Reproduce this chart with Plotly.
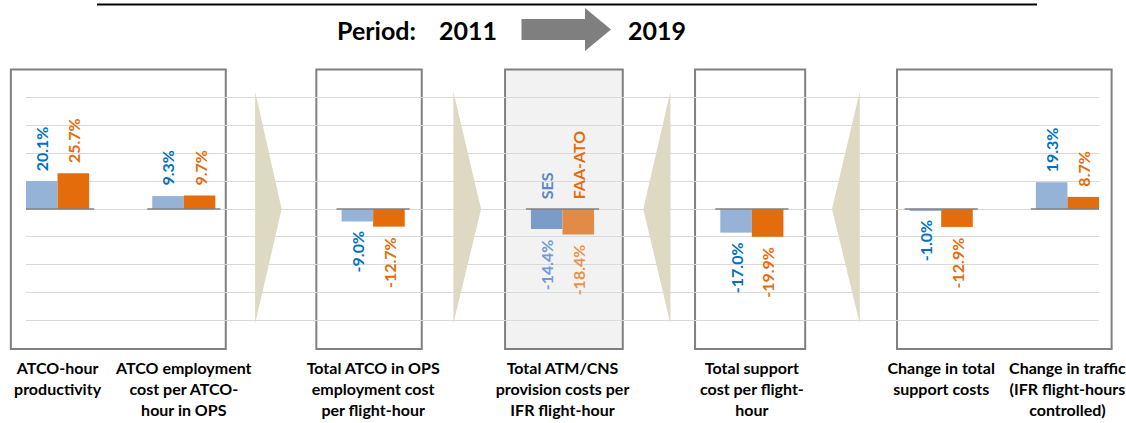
import plotly.graph_objects as go

# ---------------- data ----------------
categories = [
    "ATCO-hour<br>productivity",
    "ATCO employment<br>cost per ATCO-<br>hour in OPS",
    "Total ATCO in OPS<br>employment cost<br>per flight-hour",
    "Total ATM/CNS<br>provision costs per<br>IFR flight-hour",
    "Total support<br>cost per flight-<br>hour",
    "Change in total<br>support costs",
    "Change in traffic<br>(IFR flight-hours<br>controlled)",
]
ses_values = [20.1, 9.3, -9.0, -14.4, -17.0, -1.0, 19.3]
faa_values = [25.7, 9.7, -12.7, -18.4, -19.9, -12.9, 8.7]
series_names = ["SES", "FAA-ATO"]
period_label = "Period:"
period_start = "2011"
period_end = "2019"

# ---------------- layout helpers ----------------
W, H = 1126, 423
ML, MR, MT, MB = 26, 27, 70, 75
PW, PH = W - ML - MR, H - MT - MB

slots = [0, 2, 5, 8, 11, 14, 16]          # category slot positions on the x axis
x_range = [-0.5, 16.5]
y_range = [-100, 100]
hi = 3                                     # highlighted (central) category

def px_x(px):
    return (px - ML) / PW

def px_y(py):
    return (H - MB - py) / PH

def dx_paper(x):
    return (x - x_range[0]) / (x_range[1] - x_range[0])

FONT = "Lato, 'Open Sans', Arial, sans-serif"

ses_bar = ["#95B3D7"] * 7
faa_bar = ["#E46C0A"] * 7
ses_txt = ["#0070C0"] * 7
faa_txt = ["#E46C0A"] * 7
ses_bar[hi], faa_bar[hi] = "#7B9CC8", "#E28B47"
ses_txt[hi], faa_txt[hi] = "#6F9BD3", "#E8924E"

fig = go.Figure()
fig.add_trace(go.Bar(x=slots, y=ses_values, name=series_names[0], width=0.5, offset=-0.5,
                     marker=dict(color=ses_bar, line=dict(width=0)), showlegend=False))
fig.add_trace(go.Bar(x=slots, y=faa_values, name=series_names[1], width=0.5, offset=0.0,
                     marker=dict(color=faa_bar, line=dict(width=0)), showlegend=False))

annotations = []
for i, s in enumerate(slots):
    for v, off, col in ((ses_values[i], -0.25, ses_txt[i]), (faa_values[i], 0.25, faa_txt[i])):
        pos = v >= 0
        annotations.append(dict(
            x=s + off, y=v, xref="x", yref="y", text=f"<b>{v:.1f}%</b>",
            showarrow=False, textangle=-90,
            yanchor="bottom" if pos else "top", xanchor="center",
            yshift=8 if pos else -8,
            font=dict(family=FONT, size=16, color=col)))

# legend labels inside the central box
for name, off, col in ((series_names[0], -0.25, "#5B87C5"), (series_names[1], 0.25, "#E46C0A")):
    annotations.append(dict(x=slots[hi] + off, y=0, xref="x", yref="y", text=f"<b>{name}</b>",
                            showarrow=False, textangle=-90, yanchor="bottom", yshift=8,
                            font=dict(family=FONT, size=16, color=col)))

# header
hdr_font = dict(family=FONT, size=25, color="black")
annotations.append(dict(x=px_x(335), y=px_y(30), xref="paper", yref="paper",
                        text=f"<b>{period_label}</b>", showarrow=False,
                        xanchor="left", yanchor="middle", font=hdr_font))
annotations.append(dict(x=px_x(499), y=px_y(30), xref="paper", yref="paper",
                        text=f"<b>{period_start}</b>", showarrow=False,
                        xanchor="right", yanchor="middle", font=hdr_font))
annotations.append(dict(x=px_x(626), y=px_y(30), xref="paper", yref="paper",
                        text=f"<b>{period_end}</b>", showarrow=False,
                        xanchor="left", yanchor="middle", font=hdr_font))

shapes = []
# boxes around category groups (slot units)
boxes = [(-0.74, 2.665, None), (4.10, 5.77, None), (7.09, 8.955, "#F2F2F2"),
         (10.10, 11.845, None), (13.30, 16.70, None)]
for x0, x1, fill in boxes:
    shapes.append(dict(type="rect", xref="paper", yref="paper",
                       x0=dx_paper(x0), x1=dx_paper(x1), y0=px_y(349), y1=px_y(69.5),
                       line=dict(color="#808080", width=2),
                       fillcolor=fill if fill else "rgba(0,0,0,0)", layer="below"))

# chevrons between groups (base, tip) in slot units
chevrons = [(3.13, 3.55), (6.27, 6.71), (9.71, 9.28), (12.71, 12.27)]
for base, tip in chevrons:
    shapes.append(dict(type="path", xref="x", yref="y",
                       path=f"M {base},84.5 L {tip},0 L {base},-82.5 Z",
                       fillcolor="#DDD9C3", line=dict(width=0), layer="between"))

# short zero-line segments under each group
for s in slots:
    shapes.append(dict(type="line", xref="x", yref="y", x0=s - 0.58, x1=s + 0.58, y0=0, y1=0,
                       line=dict(color="#808080", width=1.5), layer="above"))

# header arrow
ax = [521.5, 585, 585, 611, 585, 585, 521.5]
ay = [19, 19, 8, 29.5, 51, 40, 40]
path = "M " + " L ".join(f"{px_x(a)},{px_y(b)}" for a, b in zip(ax, ay)) + " Z"
shapes.append(dict(type="path", xref="paper", yref="paper", path=path,
                   fillcolor="#7F7F7F", line=dict(width=0), layer="above"))

# underline of the (cropped) title
shapes.append(dict(type="line", xref="paper", yref="paper", x0=px_x(97), x1=px_x(1037),
                   y0=px_y(4.5), y1=px_y(4.5), line=dict(color="black", width=2), layer="above"))

fig.update_layout(
    width=W, height=H,
    margin=dict(l=ML, r=MR, t=MT, b=MB, pad=0, autoexpand=False),
    paper_bgcolor="white", plot_bgcolor="rgba(0,0,0,0)",
    barmode="overlay",
    showlegend=False,
    annotations=annotations,
    shapes=shapes,
    font=dict(family=FONT),
    xaxis=dict(range=x_range, tickmode="array", tickvals=slots,
               ticktext=[f"<b>{c}</b>" for c in categories],
               tickfont=dict(family=FONT, size=16, color="black"),
               showgrid=False, zeroline=False, showline=False, ticks="",
               ticklabeloverflow="allow", ticklabelstandoff=9, automargin=False,
               fixedrange=True),
    yaxis=dict(range=y_range, dtick=20, tick0=0, showgrid=True, gridcolor="#D9D9D9",
               gridwidth=1, zeroline=False, showline=False, showticklabels=False,
               ticks="", automargin=False, fixedrange=True),
)

fig.write_html("out.html", config={"displayModeBar": False},
               post_script="document.body.style.margin='0px';document.body.style.overflow='hidden';")
